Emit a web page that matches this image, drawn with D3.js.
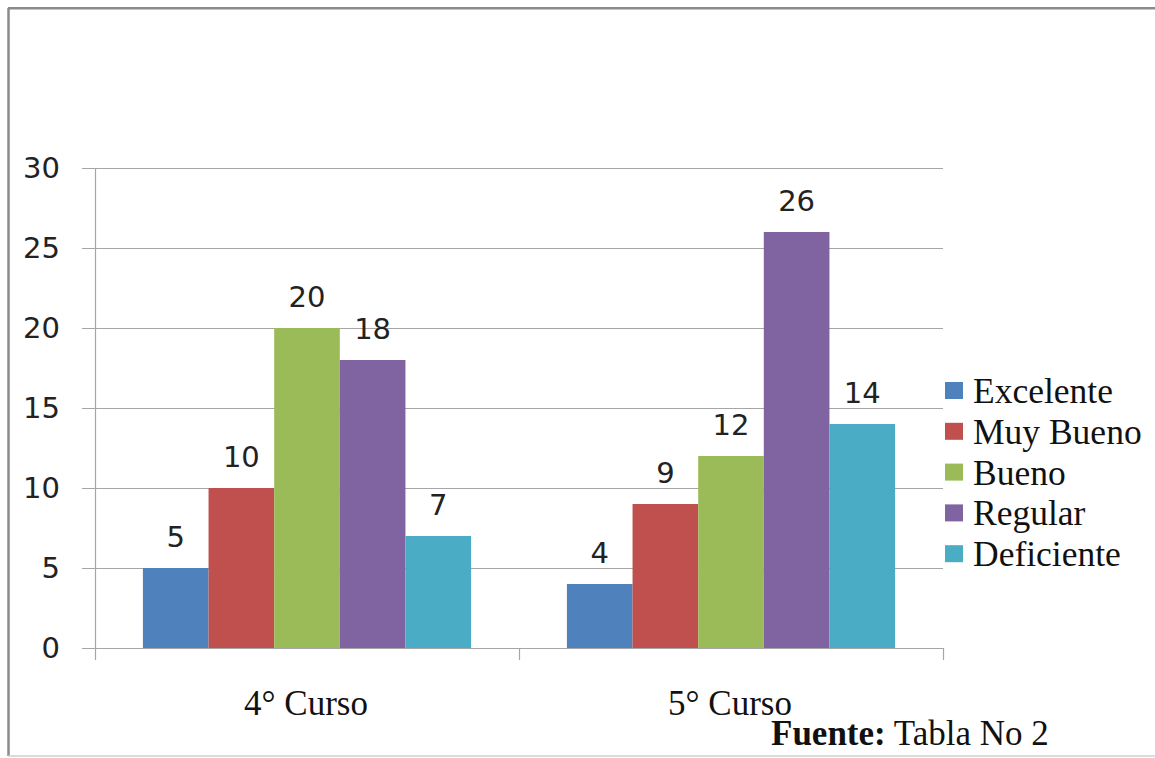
<!DOCTYPE html>
<html>
<head>
<meta charset="utf-8">
<script src="https://cdn.jsdelivr.net/npm/d3@7"></script>
<style>
  html, body { margin: 0; padding: 0; background: #ffffff; }
  svg { display: block; }
</style>
</head>
<body>
<svg id="chart" width="1155" height="758"></svg>
<script>
// Categories (school years) and rating series
const categories = ["4° Curso", "5° Curso"];
const seriesNames = ["Excelente", "Muy Bueno", "Bueno", "Regular", "Deficiente"];
const seriesColors = ["#4F81BD", "#C0504D", "#9BBB59", "#8064A2", "#4BACC6"];

// Values per series, one entry per category
const excelente  = [5, 4];
const muyBueno   = [10, 9];
const bueno      = [20, 12];
const regular    = [18, 26];
const deficiente = [7, 14];

const yTicks = [0, 5, 10, 15, 20, 25, 30];
const sourceLabel = "Fuente:";
const sourceText = " Tabla No 2";

const seriesValues = [excelente, muyBueno, bueno, regular, deficiente];
const data = categories.map((c, ci) => ({
  category: c,
  values: seriesNames.map((s, si) => ({ series: s, color: seriesColors[si], value: seriesValues[si][ci] }))
}));

const svg = d3.select("#chart");
const sans = "'DejaVu Sans', sans-serif";
const serif = "'Liberation Serif', 'Times New Roman', serif";
const gridColor = "#a6a6a6";
const labelColor = "#222";

// Outer frame
svg.append("line").attr("x1", 8.5).attr("y1", 8).attr("x2", 8.5).attr("y2", 756)
  .attr("stroke", "#8a8a8a").attr("stroke-width", 2.5);
svg.append("line").attr("x1", 8).attr("y1", 8.3).attr("x2", 1155).attr("y2", 8.3)
  .attr("stroke", "#8a8a8a").attr("stroke-width", 2.5);
svg.append("line").attr("x1", 8).attr("y1", 756).attr("x2", 1155).attr("y2", 756)
  .attr("stroke", "#cfcfcf").attr("stroke-width", 1.5);

// Plot area
const plot = { left: 95, right: 943, top: 168, bottom: 648 };

const y = d3.scaleLinear().domain([0, 30]).range([plot.bottom, plot.top]);
const x0 = d3.scaleBand().domain(categories).range([plot.left, plot.right]).padding(0);
const x1 = d3.scaleBand().domain(seriesNames).range([0, x0.bandwidth()])
  .paddingInner(0).paddingOuter(0.73);

// Horizontal gridlines with tick stubs
const yAxis = d3.axisLeft(y).tickValues(yTicks).tickSize(-(plot.right - plot.left)).tickPadding(35)
  .tickFormat(d3.format("d"));
const gy = svg.append("g").attr("transform", `translate(${plot.left},0)`).call(yAxis);
gy.select(".domain").remove();
gy.selectAll(".tick line")
  .attr("x1", -13)
  .attr("stroke", gridColor).attr("stroke-width", 1.2);
gy.selectAll(".tick text")
  .attr("x", -35)
  .attr("font-family", sans).attr("font-size", 29).attr("fill", labelColor);

// Vertical axis line
svg.append("line")
  .attr("x1", plot.left + 0.5).attr("x2", plot.left + 0.5)
  .attr("y1", plot.top).attr("y2", plot.bottom + 12)
  .attr("stroke", gridColor).attr("stroke-width", 1.2);

// Bars
const groups = svg.append("g").selectAll("g")
  .data(data).join("g")
  .attr("transform", d => `translate(${x0(d.category)},0)`);

groups.selectAll("rect")
  .data(d => d.values).join("rect")
  .attr("x", d => x1(d.series))
  .attr("width", x1.bandwidth())
  .attr("y", d => y(d.value))
  .attr("height", d => y(0) - y(d.value))
  .attr("fill", d => d.color);

// Value labels
groups.selectAll("text")
  .data(d => d.values).join("text")
  .attr("x", d => x1(d.series) + x1.bandwidth() / 2)
  .attr("y", d => y(d.value) - 21)
  .attr("text-anchor", "middle")
  .attr("font-family", sans).attr("font-size", 29).attr("fill", labelColor)
  .text(d => d.value);

// Horizontal axis with category ticks
svg.append("line")
  .attr("x1", plot.left - 13).attr("x2", plot.right)
  .attr("y1", plot.bottom + 0.5).attr("y2", plot.bottom + 0.5)
  .attr("stroke", gridColor).attr("stroke-width", 1.2);
const boundaries = categories.map(c => x0(c) + x0.bandwidth());
svg.append("g").selectAll("line")
  .data(boundaries).join("line")
  .attr("x1", d => d + 0.5).attr("x2", d => d + 0.5)
  .attr("y1", plot.bottom).attr("y2", plot.bottom + 12)
  .attr("stroke", gridColor).attr("stroke-width", 1.2);

svg.append("g").selectAll("text")
  .data(categories).join("text")
  .attr("x", d => x0(d) + x0.bandwidth() / 2 - 1)
  .attr("y", 715)
  .attr("text-anchor", "middle")
  .attr("font-family", serif).attr("font-size", 35).attr("fill", "#111")
  .text(d => d);

// Legend
const legend = svg.append("g").attr("transform", "translate(945,382)");
const rows = legend.selectAll("g")
  .data(seriesNames).join("g")
  .attr("transform", (d, i) => `translate(0,${i * 40.8})`);
rows.append("rect")
  .attr("width", 18).attr("height", 17)
  .attr("fill", (d, i) => seriesColors[i]);
rows.append("text")
  .attr("x", 28).attr("y", 21)
  .attr("font-family", serif).attr("font-size", 35.5).attr("fill", "#111")
  .text(d => d);

// Source note
const src = svg.append("text")
  .attr("x", 771).attr("y", 745)
  .attr("font-family", serif).attr("font-size", 35).attr("fill", "#111");
src.append("tspan").attr("font-weight", "bold").text(sourceLabel);
src.append("tspan").text(sourceText);
</script>
</body>
</html>
